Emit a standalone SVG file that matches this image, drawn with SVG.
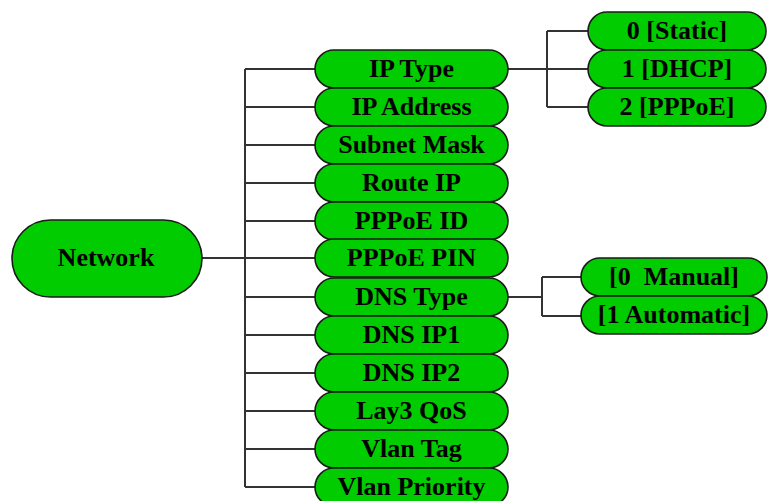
<svg xmlns="http://www.w3.org/2000/svg" width="770" height="501" viewBox="0 0 770 501">
<style>
.n rect{fill:#00cc00;stroke:#1a1a1a;stroke-width:1.6}
.n text{font-family:"Liberation Serif","Times New Roman",serif;font-weight:bold;font-size:26px;fill:#000;text-anchor:middle}
.c path{fill:none;stroke:#333;stroke-width:2}
</style>
<rect width="770" height="501" fill="#fff"/>
<g class="c">
<path d="M202 258H315M245 69V487M245 69H315M245 107H315M245 145H315M245 183H315M245 221H315M245 297H315M245 335H315M245 373H315M245 411H315M245 449H315M245 487H315"/>
<path d="M508 69H588M547 31V107M547 31H588M547 107H588"/>
<path d="M508 297H542M542 277V316M542 277H581M542 316H581"/>
</g>
<g id="network" class="n"><rect x="12" y="220" width="190" height="77" rx="38.5"/><text x="106" y="266">Network</text></g>
<g id="iptype" class="n"><rect x="315" y="50" width="193" height="38" rx="19"/><text x="411.5" y="77">IP Type</text></g>
<g id="ipaddress" class="n"><rect x="315" y="88" width="193" height="38" rx="19"/><text x="411.5" y="115">IP Address</text></g>
<g id="subnetmask" class="n"><rect x="315" y="126" width="193" height="38" rx="19"/><text x="411.5" y="153">Subnet Mask</text></g>
<g id="routeip" class="n"><rect x="315" y="164" width="193" height="38" rx="19"/><text x="411.5" y="191">Route IP</text></g>
<g id="pppoeid" class="n"><rect x="315" y="202" width="193" height="38" rx="19"/><text x="411.5" y="229">PPPoE ID</text></g>
<g id="pppoepin" class="n"><rect x="315" y="239" width="193" height="38" rx="19"/><text x="411.5" y="266">PPPoE PIN</text></g>
<g id="dnstype" class="n"><rect x="315" y="278" width="193" height="38" rx="19"/><text x="411.5" y="305">DNS Type</text></g>
<g id="dnsip1" class="n"><rect x="315" y="316" width="193" height="38" rx="19"/><text x="411.5" y="343">DNS IP1</text></g>
<g id="dnsip2" class="n"><rect x="315" y="354" width="193" height="38" rx="19"/><text x="411.5" y="381">DNS IP2</text></g>
<g id="lay3qos" class="n"><rect x="315" y="392" width="193" height="38" rx="19"/><text x="411.5" y="419">Lay3 QoS</text></g>
<g id="vlantag" class="n"><rect x="315" y="430" width="193" height="38" rx="19"/><text x="411.5" y="457">Vlan Tag</text></g>
<g id="vlanpriority" class="n"><rect x="315" y="468" width="193" height="38" rx="19"/><text x="411.5" y="495">Vlan Priority</text></g>
<g id="static" class="n"><rect x="588" y="12" width="178" height="38" rx="19"/><text x="677" y="39">0 [Static]</text></g>
<g id="dhcp" class="n"><rect x="588" y="50" width="178" height="38" rx="19"/><text x="677" y="77">1 [DHCP]</text></g>
<g id="pppoe" class="n"><rect x="588" y="88" width="178" height="38" rx="19"/><text x="677" y="115">2 [PPPoE]</text></g>
<g id="manual" class="n"><rect x="581" y="258" width="186" height="38" rx="19"/><text x="674" y="285" xml:space="preserve">[0  Manual]</text></g>
<g id="automatic" class="n"><rect x="581" y="296" width="186" height="38" rx="19"/><text x="674" y="323">[1 Automatic]</text></g>
</svg>
